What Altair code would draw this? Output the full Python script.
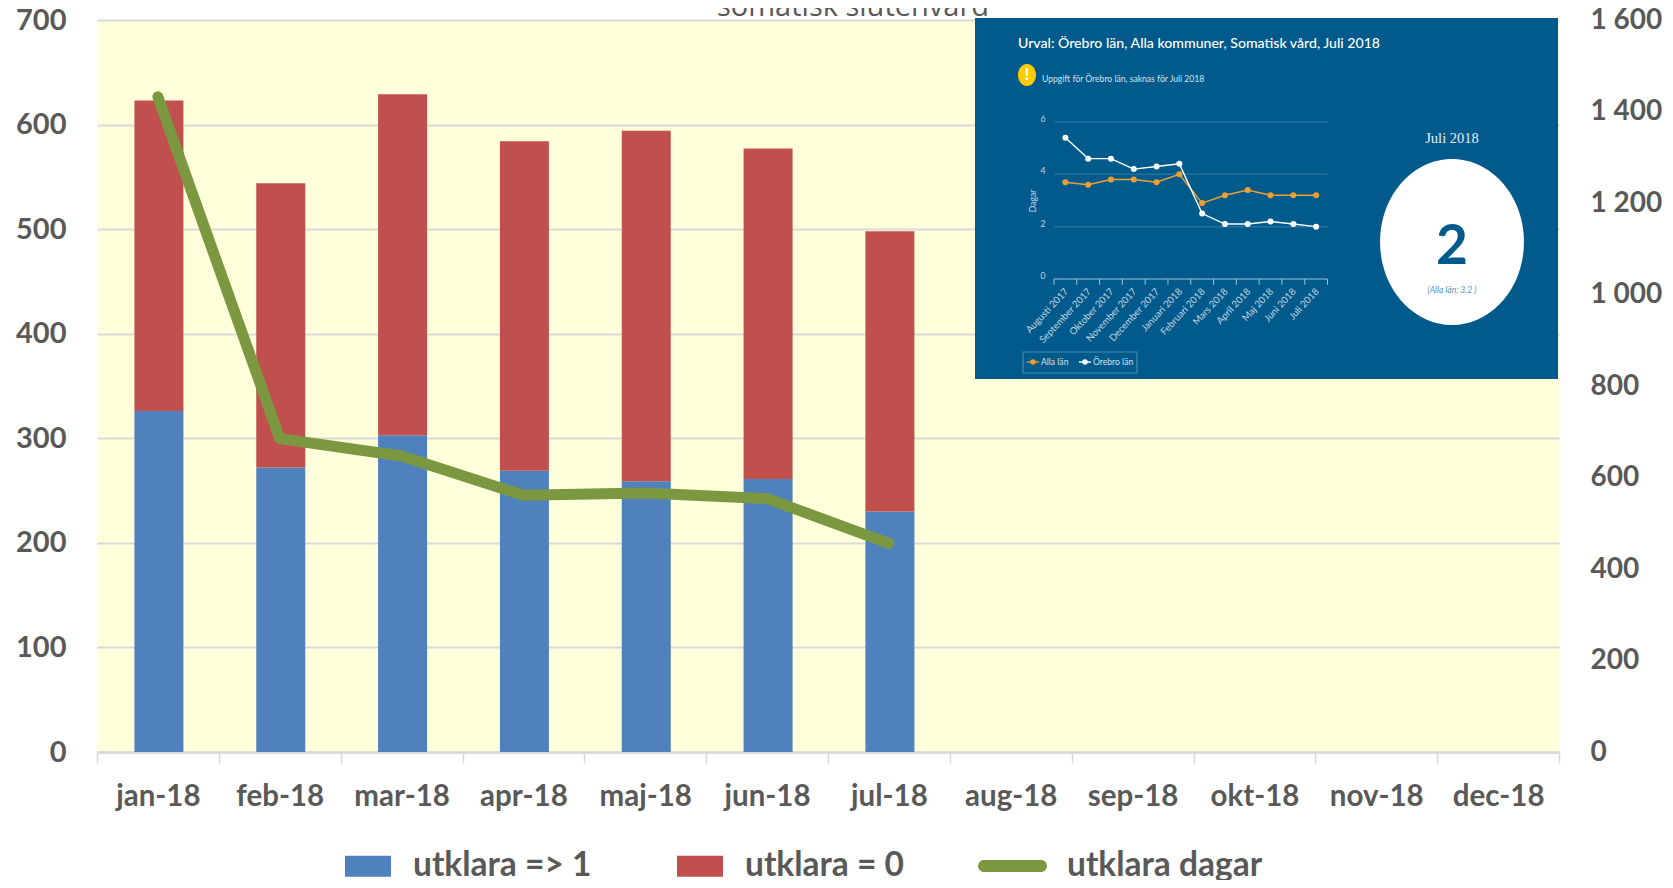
import altair as alt
import pandas as pd

months = ["jan-18","feb-18","mar-18","apr-18","maj-18","jun-18","jul-18","aug-18","sep-18","okt-18","nov-18","dec-18"]
bar_months = months[:7]
utklara_1 = [326,272,303,269,259,261,230]
utklara_0 = [297,272,326,315,335,316,268]
utklara_dagar = [1432,685,647,561,566,554,456]

inset_months = ["Augusti 2017","September 2017","Oktober 2017","November 2017","December 2017","Januari 2018",
                "Februari 2018","Mars 2018","April 2018","Maj 2018","Juni 2018","Juli 2018"]
alla_lan = [3.7,3.6,3.8,3.8,3.7,4.0,2.9,3.2,3.4,3.2,3.2,3.2]
orebro_lan = [5.4,4.6,4.6,4.2,4.3,4.4,2.5,2.1,2.1,2.2,2.1,2.0]
inset_grid = [2,4,6]
inset_ylabels = [0,2,4,6]

BLUE, RED, GREEN = "#4f81bd", "#c0504d", "#7b973f"
TXT = "#595959"
PANEL = "#005a8c"
FONT = "Lato"
LEFT, TOP = 97, 20   # page position of the plot origin
W, H = 1462, 732

x_band = alt.Scale(domain=months, paddingInner=0, paddingOuter=0)

bars_df = pd.DataFrame(
    [{"m": m, "serie": "utklara => 1", "v": v, "o": 0} for m, v in zip(bar_months, utklara_1)]
    + [{"m": m, "serie": "utklara = 0", "v": v, "o": 1} for m, v in zip(bar_months, utklara_0)]
)
line_df = pd.DataFrame({"m": bar_months, "v": utklara_dagar, "serie": "utklara dagar"})

bars = alt.Chart(bars_df).mark_bar(size=49, xOffset=1).encode(
    x=alt.X("m:N", sort=months, scale=x_band, title=None,
            axis=alt.Axis(labelAngle=0, tickBand="extent", tickSize=11, tickWidth=1.5, tickColor="#d9d9d9",
                          domainColor="#d9d9d9", domainWidth=2.5, labelPadding=19, labelFontSize=29.5,
                          labelFont=FONT, labelFontWeight="bold", labelColor=TXT, grid=False, labelBaseline="top")),
    y=alt.Y("v:Q", stack="zero", scale=alt.Scale(domain=[0, 700], nice=False), title=None,
            axis=alt.Axis(values=list(range(0, 701, 100)), grid=True, gridColor="#d9d9d9", gridWidth=2, domain=False,
                          ticks=False, labelPadding=31, labelFontSize=29, labelFont=FONT, labelFontWeight="bold",
                          labelColor=TXT)),
    color=alt.Color("serie:N", scale=alt.Scale(domain=["utklara => 1", "utklara = 0"], range=[BLUE, RED]),
                    legend=alt.Legend(title=None, orient="none", direction="horizontal", legendX=248, legendY=823,
                                      padding=0, symbolType="M-1,-0.457H1V0.457H-1Z", symbolSize=2116, symbolStrokeWidth=0,
                                      labelFontSize=33.5, labelFont=FONT, labelFontWeight="bold", labelColor=TXT,
                                      labelOffset=22, columnPadding=85, labelLimit=400)),
    order=alt.Order("o:Q"),
)

line = alt.Chart(line_df).mark_line(strokeWidth=11, strokeCap="round", strokeJoin="round").encode(
    x=alt.X("m:N", sort=months, scale=x_band, axis=None),
    y=alt.Y("v:Q", scale=alt.Scale(domain=[0, 1600], nice=False), title=None,
            axis=alt.Axis(orient="right", values=list(range(0, 1601, 200)), grid=False, domain=False, ticks=False,
                          labelPadding=31, labelFontSize=28, labelFont=FONT, labelFontWeight="bold", labelColor=TXT,
                          labelExpr="replace(format(datum.value, ','), ',', ' ')")),
    stroke=alt.Stroke("serie:N", scale=alt.Scale(domain=["utklara dagar"], range=[GREEN]),
                      legend=alt.Legend(title=None, orient="none", legendX=879.5, legendY=810, padding=0,
                                        symbolType="M-0.79,-0.167H0.79A0.167,0.167 0 0,1 0.79,0.167H-0.79A0.167,0.167 0 0,1 -0.79,-0.167Z",
                                        symbolSize=5184, symbolFillColor=GREEN, symbolStrokeWidth=0,
                                        labelFontSize=33.5, labelFont=FONT, labelFontWeight="bold", labelColor=TXT,
                                        labelOffset=18.5, labelLimit=400)),
)


def px(v):
    return alt.value(v - LEFT)


def py(v):
    return alt.value(v - TOP)


def txt(text, x, y, size, color="white", **kw):
    return alt.Chart().mark_text(text=text, fontSize=size, color=color, **{"font": FONT, **kw}).encode(x=px(x), y=py(y))


title = txt("somatisk slutenvård", 853, 16, 29, TXT, baseline="alphabetic", font="Open Sans")

panel = alt.Chart().mark_rect(color=PANEL).encode(x=px(975), x2=px(1558), y=py(18), y2=py(379))

ix = alt.Scale(domain=[0, 12], range=[1054 - LEFT, 1327.5 - LEFT], nice=False, zero=False)
iy = alt.Scale(domain=[0, 6], range=[279 - TOP, 122 - TOP], nice=False, zero=False)

grid_df = pd.DataFrame({"a": [0] * len(inset_grid), "b": [12] * len(inset_grid), "v": inset_grid})
i_grid = alt.Chart(grid_df).mark_rule(color="#26709c", strokeWidth=1.5).encode(
    x=alt.X("a:Q", scale=ix, axis=None), x2="b:Q", y=alt.Y("v:Q", scale=iy, axis=None))
base_df = pd.DataFrame({"a": [0], "b": [12], "v": [0]})
i_base = alt.Chart(base_df).mark_rule(color="#9fc0d6", strokeWidth=1.2).encode(
    x=alt.X("a:Q", scale=ix, axis=None), x2="b:Q", y=alt.Y("v:Q", scale=iy, axis=None))
tick_df = pd.DataFrame({"e": list(range(13)), "y0": [0] * 13, "y1": [-0.22] * 13})
i_ticks = alt.Chart(tick_df).mark_rule(color="#9fc0d6", strokeWidth=1).encode(
    x=alt.X("e:Q", scale=ix, axis=None), y=alt.Y("y0:Q", scale=iy, axis=None), y2="y1:Q")

ser_df = pd.DataFrame(
    [{"p": i + 0.5, "v": v, "s": "Alla län", "o": 0} for i, v in enumerate(alla_lan)]
    + [{"p": i + 0.5, "v": v, "s": "Örebro län", "o": 1} for i, v in enumerate(orebro_lan)]
)


def i_series(name, col):
    d = ser_df[ser_df.s == name]
    enc = dict(x=alt.X("p:Q", scale=ix, axis=None), y=alt.Y("v:Q", scale=iy, axis=None))
    return [alt.Chart(d).mark_line(color=col, strokeWidth=1.4).encode(**enc),
            alt.Chart(d).mark_point(color=col, filled=True, opacity=1, size=36).encode(**enc)]


lab_df = pd.DataFrame({"p": [i + 0.55 for i in range(12)], "y": [-0.42] * 12, "t": inset_months})
i_xlabels = alt.Chart(lab_df).mark_text(angle=313, align="right", baseline="middle", fontSize=9.6, font=FONT,
                                        color="#c4d6e3").encode(
    x=alt.X("p:Q", scale=ix, axis=None), y=alt.Y("y:Q", scale=iy, axis=None), text="t:N")
ylab_df = pd.DataFrame({"v": inset_ylabels})
i_ylabels = alt.Chart(ylab_df).mark_text(fontSize=8.6, font=FONT, color="#c4d6e3", dy=-3).encode(
    x=px(1043), y=alt.Y("v:Q", scale=iy, axis=None), text="v:Q")

ELL_YEL = "M-0.82,0A0.82,1 0 1,1 0.82,0A0.82,1 0 1,1 -0.82,0Z"
ELL_WHT = "M-0.867,0A0.867,1 0 1,1 0.867,0A0.867,1 0 1,1 -0.867,0Z"


def blob(x, y, size, shape, color):
    return alt.Chart().mark_point(shape=shape, size=size, filled=True, opacity=1, color=color).encode(x=px(x), y=py(y))


legend_box = alt.Chart().mark_rect(fillOpacity=0, stroke="#4a8ab0", strokeWidth=1.2).encode(
    x=px(1023), x2=px(1137), y=py(352), y2=py(373))


def legend_mark(x, color):
    return [alt.Chart().mark_rule(color=color, strokeWidth=1.4).encode(x=px(x - 6), x2=px(x + 6), y=py(362)),
            alt.Chart().mark_point(color=color, filled=True, opacity=1, size=30).encode(x=px(x), y=py(362))]


layers = [
    bars, line, panel, i_grid, i_base, i_ticks,
    *i_series("Alla län", "#f0a030"), *i_series("Örebro län", "white"),
    i_xlabels, i_ylabels,
    txt("Dagar", 1033, 201, 8.6, "#c4d6e3", angle=270),
    txt("Urval: Örebro län, Alla kommuner, Somatisk vård, Juli 2018", 1018, 48, 14.1, align="left", baseline="alphabetic", fontWeight=500),
    blob(1027, 75, 484, ELL_YEL, "#ffcc00"),
    txt("!", 1027, 75, 17, fontWeight="bold"),
    txt("Uppgift för Örebro län, saknas för Juli 2018", 1042, 82, 8.6, "#d5e2ec", align="left", baseline="alphabetic"),
    txt("Juli 2018", 1452, 139, 14.5, "#e6eef4", font="Liberation Serif"),
    blob(1452, 242, 27556, ELL_WHT, "white"),
    txt("2", 1452, 247, 55, PANEL, fontWeight="bold"),
    txt("(Alla län: 3.2 )", 1452, 290, 8.6, "#5f93b5", fontStyle="italic"),
    legend_box,
    *legend_mark(1033, "#f0a030"), *legend_mark(1085, "white"),
    txt("Alla län", 1041, 362, 8.6, "#d5e2ec", align="left"),
    txt("Örebro län", 1093, 362, 8.6, "#d5e2ec", align="left"),
    title,
]

chart = alt.layer(*layers).resolve_scale(x="independent", y="independent", color="independent", stroke="independent").properties(
    width=W, height=H,
    autosize=alt.AutoSizeParams(type="none"),
    padding={"left": LEFT - 8, "top": TOP - 8, "right": 106, "bottom": 128},
    background="white",
).configure_view(fill="#ffffdc", stroke=None)

chart.save("out.html", embed_options={"renderer": "svg", "actions": False})
